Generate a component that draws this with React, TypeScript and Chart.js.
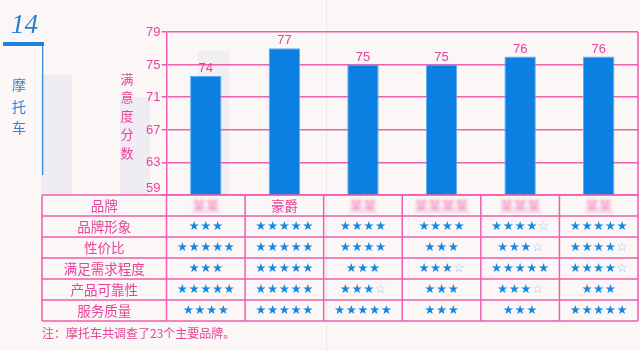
import React, { useEffect, useRef } from "react";
import { Chart, registerables } from "chart.js";

Chart.register(...registerables);

// ---- data ----
const brands = ["某某", "豪爵", "某某", "某某某某", "某某某", "某某"];
const brandBlurred = [true, false, true, true, true, true];
const scores = [73.6, 77, 75, 75, 76, 76];
const scoreLabels = ["74", "77", "75", "75", "76", "76"];
const yTicks = [59, 63, 67, 71, 75, 79];
const criteria = ["品牌形象", "性价比", "满足需求程度", "产品可靠性", "服务质量"];
// star ratings per brand (x.5 = an outline star at the end)
const ratingsBrand1 = [3, 5, 3, 5, 4];
const ratingsBrand2 = [5, 5, 5, 5, 5];
const ratingsBrand3 = [4, 4, 3, 3.5, 5];
const ratingsBrand4 = [4, 3, 3.5, 3, 3];
const ratingsBrand5 = [4.5, 3.5, 5, 3.5, 3];
const ratingsBrand6 = [5, 4.5, 4.5, 3, 5];
const ratings = [ratingsBrand1, ratingsBrand2, ratingsBrand3, ratingsBrand4, ratingsBrand5, ratingsBrand6];
const headerLabel = "品牌";
const axisTitle = "满意度分数";
const sectionNumber = "14";
const sectionTitle = "摩托车";
const note = "注：摩托车共调查了23个主要品牌。";

const PINK_LINE = "#ef5fab";
const PINK_TEXT = "#e5449a";
const BLUE_BAR = "#0b80e2";
const BLUE_STAR = "#1587e0";
const BLUE_STAR_LIGHT = "#93c8f0";
const BG = "#fbf7f7";
const CJK = '"Noto Sans CJK SC", "Noto Sans", sans-serif';

export default function App() {
  const ref = useRef<HTMLCanvasElement | null>(null);

  useEffect(() => {
    const canvas = ref.current;
    if (!canvas) return;

    const decoPlugin = {
      id: "deco",
      beforeDraw(chart: any) {
        const ctx = chart.ctx;
        const ca = chart.chartArea;
        ctx.save();
        ctx.fillStyle = BG;
        ctx.fillRect(0, 0, chart.width, chart.height);
        // faint bleed-through from the facing page
        ctx.fillStyle = "rgba(205,205,230,0.26)";
        ctx.fillRect(41, 75, 31, ca.bottom - 75);
        ctx.fillRect(120, 97, 30, ca.bottom - 97);
        ctx.fillStyle = "rgba(205,205,230,0.2)";
        ctx.fillRect(198, 51, 31, ca.bottom - 51);
        // page gutter
        ctx.strokeStyle = "rgba(150,150,160,0.16)";
        ctx.lineWidth = 1;
        ctx.beginPath();
        ctx.moveTo(326.5, 0);
        ctx.lineTo(326.5, chart.height);
        ctx.stroke();
        ctx.restore();
      },
      afterDraw(chart: any) {
        const ctx = chart.ctx;
        const ca = chart.chartArea;
        const y = chart.scales.y;
        const x = chart.scales.x;
        ctx.save();

        // y tick labels
        ctx.fillStyle = PINK_TEXT;
        ctx.font = '13px "Liberation Sans", Arial, sans-serif';
        ctx.textAlign = "right";
        ctx.textBaseline = "middle";
        yTicks.forEach((v) => {
          let py = y.getPixelForValue(v);
          if (py > ca.bottom - 7) py = ca.bottom - 7;
          ctx.fillText(String(v), ca.left - 6, py + 0.5);
        });

        // value labels
        ctx.textAlign = "center";
        ctx.textBaseline = "bottom";
        ctx.font = '13px "Liberation Sans", Arial, sans-serif';
        const meta = chart.getDatasetMeta(0);
        meta.data.forEach((bar: any, i: number) => {
          ctx.fillText(scoreLabels[i], bar.x, bar.y - 1);
        });

        // section heading
        ctx.fillStyle = "#2b7ccc";
        ctx.font = 'italic 27px "Liberation Serif", serif';
        ctx.textAlign = "left";
        ctx.textBaseline = "alphabetic";
        ctx.fillText(sectionNumber, 11, 33);
        ctx.fillStyle = "#1f82dc";
        ctx.fillRect(3, 42, 41, 4);
        ctx.fillStyle = "#3d8bd8";
        ctx.fillRect(42, 46, 1.3, 129);
        ctx.fillStyle = "#3a80cf";
        ctx.font = `14px ${CJK}`;
        ctx.textAlign = "center";
        ctx.textBaseline = "middle";
        Array.from(sectionTitle).forEach((ch, i) => {
          ctx.fillText(ch, 19, 85 + i * 21.5);
        });

        // axis title (vertical)
        ctx.fillStyle = PINK_TEXT;
        ctx.font = `13px ${CJK}`;
        Array.from(axisTitle).forEach((ch, i) => {
          ctx.fillText(ch, 127, 79 + i * 18.5);
        });

        // table
        const tLeft = 42;
        const tTop = ca.bottom;
        const rowH = 21;
        const nRows = criteria.length + 1;
        const tBottom = tTop + rowH * nRows;
        const half = (x.getPixelForValue(1) - x.getPixelForValue(0)) / 2;

        ctx.strokeStyle = PINK_LINE;
        ctx.lineWidth = 1.5;
        ctx.beginPath();
        for (let r = 0; r <= nRows; r++) {
          const yy = tTop + r * rowH;
          ctx.moveTo(tLeft, yy);
          ctx.lineTo(ca.right, yy);
        }
        ctx.moveTo(tLeft, tTop);
        ctx.lineTo(tLeft, tBottom);
        ctx.moveTo(ca.left, tTop);
        ctx.lineTo(ca.left, tBottom);
        for (let i = 0; i < brands.length; i++) {
          const xr = x.getPixelForValue(i) + half;
          const top = i === brands.length - 1 ? ca.top : tTop;
          ctx.moveTo(xr, top);
          ctx.lineTo(xr, tBottom);
        }
        ctx.stroke();

        // header row
        ctx.fillStyle = PINK_TEXT;
        ctx.font = `13.5px ${CJK}`;
        ctx.textAlign = "center";
        ctx.textBaseline = "middle";
        const labelCx = (tLeft + ca.left) / 2;
        ctx.fillText(headerLabel, labelCx, tTop + rowH / 2 + 0.5);
        brands.forEach((b, i) => {
          const cx = x.getPixelForValue(i);
          ctx.save();
          if (brandBlurred[i]) {
            ctx.filter = "blur(1.6px)";
            ctx.fillStyle = "rgba(236,90,160,0.75)";
          }
          ctx.fillText(b, cx, tTop + rowH / 2 + 0.5);
          ctx.restore();
        });
        criteria.forEach((c, r) => {
          ctx.fillText(c, labelCx, tTop + rowH * (r + 1) + rowH / 2 + 0.5);
        });

        // stars
        ctx.font = '12.5px "DejaVu Sans", sans-serif';
        const sp = 11.7;
        ratings.forEach((rs, i) => {
          const cx = x.getPixelForValue(i);
          rs.forEach((r, row) => {
            const full = Math.floor(r);
            const n = full + (r % 1 ? 1 : 0);
            const start = cx - (n * sp) / 2 + sp / 2;
            const cy = tTop + rowH * (row + 1) + rowH / 2 + 0.5;
            for (let k = 0; k < n; k++) {
              if (k < full) {
                ctx.fillStyle = BLUE_STAR;
                ctx.fillText("★", start + k * sp, cy);
              } else {
                ctx.fillStyle = BLUE_STAR_LIGHT;
                ctx.fillText("☆", start + k * sp, cy);
              }
            }
          });
        });

        // note
        ctx.fillStyle = PINK_TEXT;
        ctx.font = `12px ${CJK}`;
        ctx.textAlign = "left";
        ctx.textBaseline = "middle";
        ctx.fillText(note, 42, 333.5);

        ctx.restore();
      },
    };

    const chart = new Chart(canvas, {
      type: "bar",
      data: {
        labels: brands,
        datasets: [
          {
            data: scores,
            backgroundColor: BLUE_BAR,
            borderColor: "#5aaeee",
            borderWidth: 1,
            barPercentage: 0.4,
            categoryPercentage: 1,
          },
        ],
      },
      options: {
        responsive: false,
        animation: false,
        devicePixelRatio: 1,
        layout: { padding: { left: 0, right: 2, top: 32, bottom: 156 } },
        plugins: { legend: { display: false }, tooltip: { enabled: false } },
        scales: {
          x: { display: false },
          y: {
            min: 59,
            max: 79,
            afterFit: (s: any) => {
              s.width = 166.5;
            },
            afterBuildTicks: (s: any) => {
              s.ticks = yTicks.map((v) => ({ value: v }));
            },
            grid: { color: PINK_LINE, lineWidth: 1.5, drawTicks: true, tickLength: 5 },
            border: { display: true, color: PINK_LINE, width: 1.5 },
            ticks: { display: false },
          },
        },
      } as any,
      plugins: [decoPlugin],
    });

    return () => chart.destroy();
  }, []);

  return (
    <div style={{ position: "absolute", left: 0, top: 0, width: 640, height: 351, background: BG }}>
      <canvas ref={ref} width={640} height={351} style={{ display: "block", width: 640, height: 351 }} />
    </div>
  );
}
